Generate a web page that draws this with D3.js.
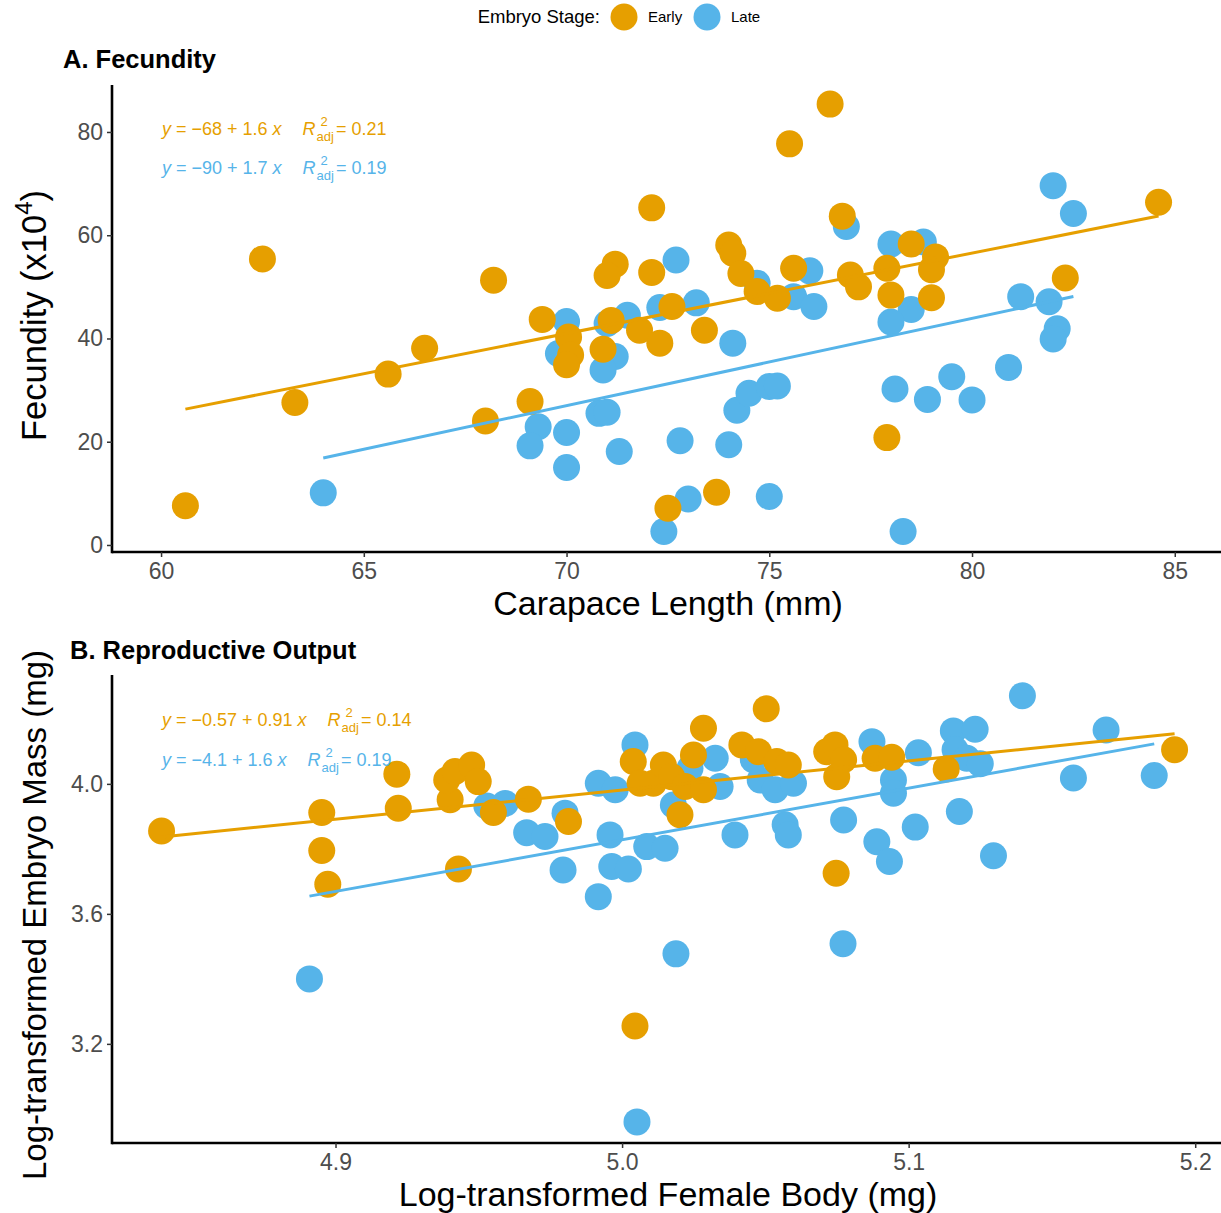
<!DOCTYPE html>
<html>
<head>
<meta charset="utf-8">
<script src="https://cdn.jsdelivr.net/npm/d3@7"></script>
<style>
body { margin: 0; background: #fff; }
text { font-family: "Liberation Sans", Arial, sans-serif; }
</style>
</head>
<body>
<script>
// ---- data ----
const stages = ["Early", "Late"];

// A. Fecundity: carapace length (mm) vs fecundity (x10^4)
const fecEarlyLength = [60.6, 62.5, 63.3, 65.6, 66.5, 68.2, 68.0, 69.1, 69.4, 70.05, 70.1, 70.0, 70.9, 71.1, 71.8, 72.3, 72.6, 73.4, 74.0, 74.1, 74.3, 74.7, 75.2, 75.6, 76.8, 77.0, 77.2, 73.7, 72.5, 76.5, 75.5, 78.5, 79.1, 79.0, 77.9, 78.0, 79.0, 77.9, 82.3, 84.6, 71.2, 71.0, 72.1, 72.1];
const fecEarlyValue  = [7.6, 55.4, 27.6, 33.1, 38.1, 51.3, 24.0, 27.8, 43.7, 40.3, 36.8, 34.9, 37.9, 43.5, 41.6, 39.1, 46.2, 41.6, 58.1, 56.5, 52.6, 49.1, 47.8, 53.6, 63.7, 52.3, 50.0, 10.2, 7.1, 85.4, 77.7, 58.3, 55.8, 53.3, 53.6, 48.4, 47.9, 20.8, 51.7, 66.4, 54.4, 52.2, 52.8, 65.3];
const fecLateLength  = [64.0, 69.3, 69.1, 70.0, 70.0, 70.8, 71.0, 71.3, 72.8, 74.0, 74.2, 74.5, 75.0, 75.2, 73.0, 72.4, 75.0, 74.1, 70.0, 69.8, 71.2, 70.9, 71.0, 71.5, 72.3, 72.7, 73.2, 74.7, 76.0, 75.6, 76.1, 76.9, 78.0, 78.8, 78.5, 78.0, 78.1, 78.9, 79.5, 80.0, 80.9, 81.2, 81.9, 82.1, 82.0, 82.0, 82.5, 78.3];
const fecLateValue   = [10.1, 22.9, 19.2, 21.8, 15.0, 25.5, 25.7, 18.1, 20.2, 19.4, 26.1, 29.4, 30.7, 30.8, 8.9, 2.6, 9.4, 39.1, 43.3, 37.1, 36.5, 33.9, 42.9, 44.5, 46.0, 55.2, 46.9, 50.7, 53.1, 48.1, 46.2, 61.7, 58.3, 58.7, 45.6, 43.2, 30.2, 28.2, 32.6, 28.1, 34.4, 48.1, 47.1, 41.9, 39.9, 69.6, 64.2, 2.6];

// B. Reproductive output: log female body (mg) vs log embryo mass (mg)
const repEarlyBody = [4.8393, 4.8952, 4.8952, 4.8973, 4.9214, 4.9219, 4.9429, 4.9400, 4.9388, 4.9417, 4.9475, 4.9498, 4.9551, 4.9673, 4.9813, 5.0503, 5.0284, 5.0039, 5.0063, 5.0109, 5.0144, 5.0173, 5.0249, 5.0220, 5.0284, 5.0202, 5.0418, 5.0476, 5.0540, 5.0580, 5.0714, 5.0743, 5.0773, 5.0749, 5.0883, 5.0747, 5.0941, 5.1131, 5.1928, 5.0045];
const repEarlyMass = [3.855, 3.912, 3.795, 3.691, 4.030, 3.925, 3.738, 3.951, 4.012, 4.038, 4.058, 4.007, 3.912, 3.953, 3.884, 4.231, 4.171, 4.069, 4.002, 4.002, 4.058, 4.022, 4.089, 3.992, 3.982, 3.905, 4.120, 4.099, 4.069, 4.058, 4.099, 4.120, 4.074, 4.022, 4.079, 3.725, 4.082, 4.046, 4.105, 3.255];
const repLateBody  = [4.8909, 4.9528, 4.9592, 4.9667, 4.9731, 4.9794, 4.9801, 5.0045, 4.9917, 4.9976, 4.9958, 4.9964, 5.0022, 4.9917, 5.0086, 5.0150, 5.0179, 5.0237, 5.0325, 5.0342, 5.0394, 5.0458, 5.0482, 5.0534, 5.0598, 5.0569, 5.0580, 5.0773, 5.0872, 5.0889, 5.0933, 5.0947, 5.0947, 5.1034, 5.1023, 5.1156, 5.1232, 5.1162, 5.1203, 5.1250, 5.1177, 5.1296, 5.1397, 5.1689, 5.1575, 5.1857, 5.0052, 5.0188, 5.0771];
const repLateMass  = [3.400, 3.932, 3.940, 3.850, 3.838, 3.735, 3.910, 4.120, 4.002, 3.982, 3.843, 3.746, 3.738, 3.653, 3.807, 3.802, 3.935, 4.048, 4.079, 3.992, 3.843, 4.074, 4.012, 3.982, 4.002, 3.874, 3.843, 3.889, 4.130, 3.822, 3.761, 4.012, 3.971, 4.096, 3.867, 4.163, 4.168, 4.105, 4.079, 4.062, 3.915, 3.779, 4.271, 4.166, 4.018, 4.026, 2.960, 3.477, 3.508];

// fitted lines (intercept, slope) per stage, and the printed labels
const fecIntercept = [-68.1, -91.3];
const fecSlope     = [1.558, 1.69];
const fecEqLabel   = ["\u221268 + 1.6", "\u221290 + 1.7"];
const fecR2Label   = ["0.21", "0.19"];
const repIntercept = [-0.504, -4.117];
const repSlope     = [0.897, 1.589];
const repEqLabel   = ["\u22120.57 + 0.91", "\u22124.1 + 1.6"];
const repR2Label   = ["0.14", "0.19"];

// tick values
const fecXTicks = [60, 65, 70, 75, 80, 85];
const fecYTicks = [0, 20, 40, 60, 80];
const repXTicks = [4.9, 5.0, 5.1, 5.2];
const repYTicks = [3.2, 3.6, 4.0];

// ---- layout ----
const width = 1221, height = 1213;
const colors = { Early: "#E69F00", Late: "#56B4E9" };
const radius = 13.5;

const svg = d3.select("body")
  .append("svg")
  .attr("width", width)
  .attr("height", height);

// legend
const legend = svg.append("g");
legend.append("text")
  .attr("x", 600).attr("y", 23)
  .attr("text-anchor", "end")
  .attr("font-size", 18.5)
  .text("Embryo Stage:");
[["Early", 624, 648], ["Late", 707, 731]].forEach(([s, cx, tx]) => {
  legend.append("circle").attr("cx", cx).attr("cy", 17).attr("r", radius).attr("fill", colors[s]);
  legend.append("text").attr("x", tx).attr("y", 22).attr("font-size", 15).text(s);
});

function panel(cfg) {
  const x = d3.scaleLinear().domain(cfg.xDomain).range([112, 1221]);
  const y = d3.scaleLinear().domain(cfg.yDomain).range([cfg.bottom, cfg.top]);
  const g = svg.append("g");

  // title
  g.append("text")
    .attr("x", cfg.titleX).attr("y", cfg.titleY)
    .attr("font-size", 25.5).attr("font-weight", "bold")
    .text(cfg.title);

  // axes
  const xAxis = g.append("g")
    .attr("transform", `translate(0,${cfg.bottom})`)
    .call(d3.axisBottom(x).tickValues(cfg.xTicks).tickFormat(cfg.xFormat).tickSize(5).tickSizeOuter(0).tickPadding(6));
  const yAxis = g.append("g")
    .attr("transform", "translate(112,0)")
    .call(d3.axisLeft(y).tickValues(cfg.yTicks).tickFormat(cfg.yFormat).tickSize(5).tickSizeOuter(0).tickPadding(4));
  [xAxis, yAxis].forEach(a => {
    a.select(".domain").attr("stroke", "#000").attr("stroke-width", 2.6);
    a.selectAll(".tick line").attr("stroke", "#333").attr("stroke-width", 1.5);
    a.selectAll(".tick text").attr("fill", "#4D4D4D").attr("font-size", 23)
      .style("font-family", '"Liberation Sans", Arial, sans-serif');
  });
  xAxis.select(".domain").attr("d", `M112,0H1221`);
  yAxis.select(".domain").attr("d", `M0,${cfg.top}V${cfg.bottom + 1.3}`);

  // axis titles
  g.append("text")
    .attr("x", 668).attr("y", cfg.bottom + 63)
    .attr("text-anchor", "middle").attr("font-size", 34)
    .text(cfg.xLabel);
  const yl = g.append("text")
    .attr("transform", `translate(46,${(cfg.top + cfg.bottom) / 2 + cfg.yLabelShift}) rotate(-90)`)
    .attr("text-anchor", "middle").attr("font-size", cfg.yLabelSize);
  cfg.yLabel(yl);

  // points: late first, early drawn over
  [1, 0].forEach(i => {
    const xs = cfg.xs[i], ys = cfg.ys[i];
    g.append("g").selectAll("circle")
      .data(xs.map((v, k) => [v, ys[k]]))
      .enter().append("circle")
      .attr("cx", d => x(d[0]))
      .attr("cy", d => y(d[1]))
      .attr("r", radius)
      .attr("fill", colors[stages[i]]);
  });

  // fit lines
  [0, 1].forEach(i => {
    const ext = d3.extent(cfg.xs[i]);
    const line = d3.line().x(d => x(d)).y(d => y(cfg.intercept[i] + cfg.slope[i] * d));
    g.append("path")
      .attr("d", line(ext))
      .attr("fill", "none")
      .attr("stroke", colors[stages[i]])
      .attr("stroke-width", 3);
  });

  // equation labels
  [0, 1].forEach(i => {
    const col = colors[stages[i]];
    const by = cfg.eqY[i];
    const eq = g.append("text").attr("x", 162).attr("y", by).attr("font-size", 18).attr("fill", col);
    eq.append("tspan").attr("font-style", "italic").text("y");
    eq.append("tspan").text(" = " + cfg.eqLabel[i] + " ");
    eq.append("tspan").attr("font-style", "italic").text("x");
    const rx = 162 + eq.node().getComputedTextLength() + 21;
    const r = g.append("text").attr("x", rx).attr("y", by).attr("font-size", 18).attr("fill", col)
      .attr("font-style", "italic").text("R");
    const sx = rx + r.node().getComputedTextLength() + 1;
    g.append("text").attr("x", sx + 4).attr("y", by - 9).attr("font-size", 13).attr("fill", col).text("2");
    const adj = g.append("text").attr("x", sx).attr("y", by + 6).attr("font-size", 13).attr("fill", col).text("adj");
    g.append("text").attr("x", sx + adj.node().getComputedTextLength() + 2).attr("y", by)
      .attr("font-size", 18).attr("fill", col).text(" = " + cfg.r2Label[i]);
  });
}

panel({
  title: "A. Fecundity", titleX: 63, titleY: 68,
  top: 85, bottom: 552,
  xDomain: [58.79, 86.14], yDomain: [-1.36, 89.1],
  xTicks: fecXTicks, yTicks: fecYTicks,
  xFormat: d3.format("d"), yFormat: d3.format("d"),
  xLabel: "Carapace Length (mm)",
  yLabelShift: -3, yLabelSize: 34.5,
  yLabel: t => {
    t.append("tspan").text("Fecundity (x10");
    t.append("tspan").attr("font-size", 24).attr("dy", -14).text("4");
    t.append("tspan").attr("dy", 14).text(")");
  },
  xs: [fecEarlyLength, fecLateLength], ys: [fecEarlyValue, fecLateValue],
  intercept: fecIntercept, slope: fecSlope,
  eqLabel: fecEqLabel, r2Label: fecR2Label, eqY: [135, 174]
});

panel({
  title: "B. Reproductive Output", titleX: 70, titleY: 659,
  top: 675, bottom: 1143,
  xDomain: [4.822, 5.209], yDomain: [2.895, 4.335],
  xTicks: repXTicks, yTicks: repYTicks,
  xFormat: d3.format(".1f"), yFormat: d3.format(".1f"),
  xLabel: "Log-transformed Female Body (mg)",
  yLabelShift: 6, yLabelSize: 33,
  yLabel: t => t.text("Log-transformed Embryo Mass (mg)"),
  xs: [repEarlyBody, repLateBody], ys: [repEarlyMass, repLateMass],
  intercept: repIntercept, slope: repSlope,
  eqLabel: repEqLabel, r2Label: repR2Label, eqY: [726, 766]
});
</script>
</body>
</html>
